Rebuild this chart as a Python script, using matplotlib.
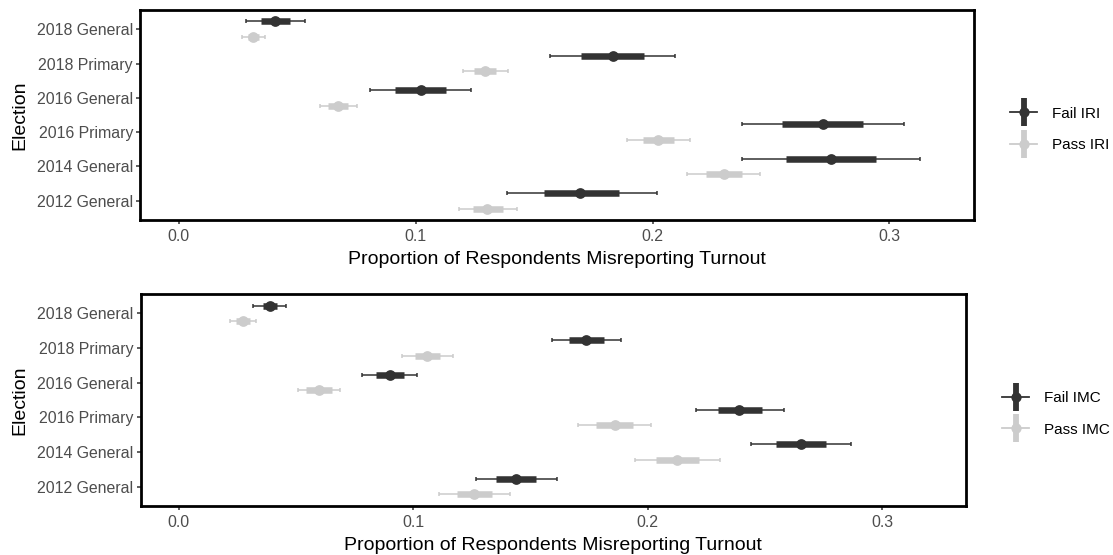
import matplotlib
matplotlib.use('Agg')
import matplotlib.pyplot as plt
from matplotlib.lines import Line2D
from matplotlib.legend_handler import HandlerTuple
import numpy as np

plt.rcParams['font.family'] = ['Liberation Sans', 'DejaVu Sans']

elections = ['2018 General', '2018 Primary', '2016 General',
             '2016 Primary', '2014 General', '2012 General']

# top panel: instructed response item (IRI)
iri_fail = [0.0407, 0.1831, 0.1021, 0.2718, 0.2752, 0.1695]
iri_fail_lo = [0.0285, 0.1568, 0.0808, 0.2378, 0.2378, 0.1385]
iri_fail_hi = [0.0532, 0.2094, 0.1235, 0.3060, 0.3130, 0.2019]
iri_fail_lo50 = [0.0347, 0.1698, 0.0914, 0.2548, 0.2565, 0.1543]
iri_fail_hi50 = [0.0468, 0.1964, 0.1128, 0.2890, 0.2944, 0.1858]

iri_pass = [0.0314, 0.1293, 0.0673, 0.2025, 0.2300, 0.1303]
iri_pass_lo = [0.0268, 0.1198, 0.0597, 0.1892, 0.2147, 0.1182]
iri_pass_hi = [0.0364, 0.1391, 0.0751, 0.2156, 0.2452, 0.1428]
iri_pass_lo50 = [0.0290, 0.1246, 0.0630, 0.1961, 0.2226, 0.1241]
iri_pass_hi50 = [0.0340, 0.1341, 0.0716, 0.2090, 0.2376, 0.1367]

# bottom panel: instructional manipulation check (IMC)
imc_fail = [0.0389, 0.1738, 0.0900, 0.2392, 0.2653, 0.1438]
imc_fail_lo = [0.0318, 0.1591, 0.0784, 0.2206, 0.2441, 0.1267]
imc_fail_hi = [0.0459, 0.1886, 0.1017, 0.2581, 0.2869, 0.1613]
imc_fail_lo50 = [0.0359, 0.1664, 0.0842, 0.2300, 0.2547, 0.1354]
imc_fail_hi50 = [0.0419, 0.1813, 0.0959, 0.2488, 0.2763, 0.1524]

imc_pass = [0.0274, 0.1061, 0.0599, 0.1859, 0.2127, 0.1260]
imc_pass_lo = [0.0219, 0.0951, 0.0509, 0.1703, 0.1945, 0.1111]
imc_pass_hi = [0.0331, 0.1172, 0.0690, 0.2016, 0.2309, 0.1412]
imc_pass_lo50 = [0.0245, 0.1008, 0.0541, 0.1781, 0.2036, 0.1188]
imc_pass_hi50 = [0.0305, 0.1116, 0.0655, 0.1938, 0.2219, 0.1336]

dark = '#333333'
light = '#CCCCCC'
dodge = 0.225


def draw_series(ax, ypos, est, lo, hi, lo50, hi50, color):
    est = np.array(est)
    ax.errorbar(est, ypos, xerr=[est - np.array(lo), np.array(hi) - est],
                fmt='none', ecolor=color, elinewidth=1.1, capsize=1.3,
                capthick=1.1, zorder=2)
    ax.hlines(ypos, lo50, hi50, color=color, lw=4.7, zorder=3)
    ax.scatter(est, ypos, s=60, color=color, zorder=4, linewidths=0)


def style_axis(ax):
    ax.set_xlim(-0.0162, 0.3357)
    ax.set_ylim(len(elections) - 1 + 0.56, -0.56)
    ax.set_yticks(range(len(elections)))
    ax.set_yticklabels(elections)
    ax.set_xticks([0.0, 0.1, 0.2, 0.3])
    ax.set_xticklabels(['0.0', '0.1', '0.2', '0.3'])
    for s in ax.spines.values():
        s.set_linewidth(2.0)
        s.set_color('black')
    ax.tick_params(axis='both', length=2.9, width=1.1, color=dark,
                   labelcolor='#4D4D4D', labelsize=11.4, pad=2.4)
    ax.tick_params(axis='x', pad=3.8)
    ax.set_xlabel('Proportion of Respondents Misreporting Turnout',
                  fontsize=14, labelpad=5)
    ax.set_ylabel('Election', fontsize=14, labelpad=6)


def legend_handle(color):
    return (Line2D([], [], color=color, lw=1.3),
            Line2D([], [], color=color, marker='|', markersize=19.5,
                   markeredgewidth=4.2, linestyle='none'),
            Line2D([], [], color=color, marker='o', markersize=7.4,
                   markeredgewidth=0, linestyle='none'))


fig = plt.figure(figsize=(11.13, 5.55), dpi=100)
ax1 = fig.add_axes([0.1262, 0.6036, 0.8751 - 0.1262, 0.982 - 0.6036])
ax2 = fig.add_axes([0.1264, 0.0883, 0.8677 - 0.1264, 0.4703 - 0.0883])

y = np.arange(len(elections))

draw_series(ax1, y + dodge, iri_pass, iri_pass_lo, iri_pass_hi,
            iri_pass_lo50, iri_pass_hi50, light)
draw_series(ax1, y - dodge, iri_fail, iri_fail_lo, iri_fail_hi,
            iri_fail_lo50, iri_fail_hi50, dark)
draw_series(ax2, y + dodge, imc_pass, imc_pass_lo, imc_pass_hi,
            imc_pass_lo50, imc_pass_hi50, light)
draw_series(ax2, y - dodge, imc_fail, imc_fail_lo, imc_fail_hi,
            imc_fail_lo50, imc_fail_hi50, dark)

style_axis(ax1)
style_axis(ax2)

for labels, anchor in [(['Fail IRI', 'Pass IRI'], (0.9079, 0.7667)),
                       (['Fail IMC', 'Pass IMC'], (0.9007, 0.254))]:
    fig.legend([legend_handle(dark), legend_handle(light)], labels,
               handler_map={tuple: HandlerTuple(ndivide=1, pad=0)},
               loc='center left', bbox_to_anchor=anchor, frameon=False,
               fontsize=11, handlelength=1.75, handletextpad=0.95,
               labelspacing=1.15, borderpad=0, borderaxespad=0)

fig.savefig('out.png', dpi=100)
